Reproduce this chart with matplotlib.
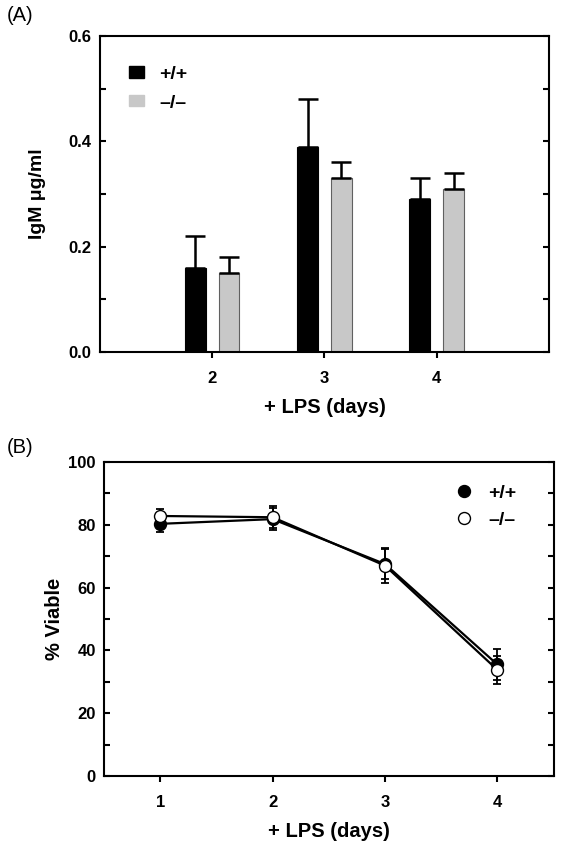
import numpy as np
import matplotlib
matplotlib.use("Agg")
import matplotlib.pyplot as plt
from matplotlib.lines import Line2D
from matplotlib.patches import Patch

plt.rcParams["font.family"] = ["Liberation Sans", "DejaVu Sans"]

# Panel A: IgM secretion
days_a = [2, 3, 4]
igm_wt = [0.16, 0.39, 0.29]
igm_wt_err = [0.06, 0.09, 0.04]
igm_ko = [0.15, 0.33, 0.31]
igm_ko_err = [0.03, 0.03, 0.03]

# Panel B: viability
days_b = [1, 2, 3, 4]
viab_wt = [80.3, 81.8, 67.5, 35.5]
viab_wt_err = [2.7, 3.6, 4.8, 5.0]
viab_ko = [82.8, 82.4, 67.0, 33.8]
viab_ko_err = [2.2, 3.5, 5.6, 4.4]

labels = ["+/+", "\u2013/\u2013"]
gray = "#c8c8c8"

fig = plt.figure(figsize=(5.64, 8.5), dpi=100)


def style_axes(ax):
    for s in ax.spines.values():
        s.set_linewidth(1.5)
    ax.tick_params(axis="y", which="both", direction="in", left=True, right=True,
                   width=1.5, length=4, labelsize=12, pad=6)
    ax.tick_params(axis="x", direction="out", length=4, width=1.5, top=False,
                   labelsize=12, pad=10)
    for lab in ax.get_xticklabels() + ax.get_yticklabels():
        lab.set_fontweight("bold")


# ── (A) ──────────────────────────────────────────────────────────────────────
ax1 = fig.add_axes([0.1773, 0.5859, 0.796, 0.3717])
x = np.array(days_a)
off, w = 0.15, 0.185
ax1.bar(x - off, igm_wt, w, color="black", edgecolor="black", linewidth=0.8)
ax1.bar(x + off, igm_ko, w, color=gray, edgecolor="#606060", linewidth=0.8)
ax1.errorbar(x - off, igm_wt, yerr=[np.zeros(3), igm_wt_err], fmt="none",
             ecolor="black", elinewidth=1.8, capsize=7, capthick=1.8)
ax1.errorbar(x + off, igm_ko, yerr=[np.zeros(3), igm_ko_err], fmt="none",
             ecolor="black", elinewidth=1.8, capsize=7, capthick=1.8)
ax1.set_xlim(1, 5)
ax1.set_ylim(0, 0.6)
ax1.set_xticks(days_a)
ax1.set_yticks([0.0, 0.2, 0.4, 0.6])
ax1.set_yticks([0.1, 0.3, 0.5], minor=True)
ax1.set_yticklabels(["0.0", "0.2", "0.4", "0.6"])
style_axes(ax1)
ax1.set_xlabel("+ LPS (days)", fontsize=14.5, fontweight="bold", labelpad=8)
ax1.set_ylabel("IgM \u03bcg/ml", fontsize=14, fontweight="bold")
ax1.yaxis.set_label_coords(-0.12, 0.5)
h1 = [Patch(facecolor="black", edgecolor="black"),
      Patch(facecolor=gray, edgecolor=gray)]
ax1.legend(h1, labels, loc="upper left", bbox_to_anchor=(0.065, 0.905),
           frameon=False, borderpad=0, borderaxespad=0,
           handlelength=0.77, handleheight=0.52, handletextpad=0.77,
           labelspacing=0.6, prop={"weight": "bold", "size": 14})
fig.text(0.012, 0.993, "(A)", fontsize=14.5, va="top")

# ── (B) ──────────────────────────────────────────────────────────────────────
ax2 = fig.add_axes([0.1844, 0.0871, 0.797, 0.3694])
ax2.errorbar(days_b, viab_wt, yerr=viab_wt_err, color="black", lw=1.6,
             marker="o", ms=8.6, mfc="black", mec="black", elinewidth=1.3,
             capsize=3, capthick=1.3)
ax2.errorbar(days_b, viab_ko, yerr=viab_ko_err, color="black", lw=1.6,
             marker="o", ms=8.6, mfc="white", mec="black", elinewidth=1.3,
             capsize=3, capthick=1.3)
ax2.set_xlim(0.5, 4.5)
ax2.set_ylim(0, 100)
ax2.set_xticks(days_b)
ax2.set_yticks(np.arange(0, 101, 20))
ax2.set_yticks(np.arange(10, 100, 20), minor=True)
style_axes(ax2)
ax2.set_xlabel("+ LPS (days)", fontsize=14.5, fontweight="bold", labelpad=8)
ax2.set_ylabel("% Viable", fontsize=14.5, fontweight="bold")
ax2.yaxis.set_label_coords(-0.089, 0.5)
h2 = [Line2D([], [], ls="none", marker="o", ms=8.6, mfc="black", mec="black"),
      Line2D([], [], ls="none", marker="o", ms=8.6, mfc="white", mec="black")]
ax2.legend(h2, labels, loc="upper left", bbox_to_anchor=(0.779, 0.93),
           frameon=False, borderpad=0, borderaxespad=0,
           handlelength=1.0, handletextpad=0.75, labelspacing=0.5,
           prop={"weight": "bold", "size": 14})
fig.text(0.012, 0.4847, "(B)", fontsize=14.5, va="top")

fig.savefig("out.png", dpi=100)
